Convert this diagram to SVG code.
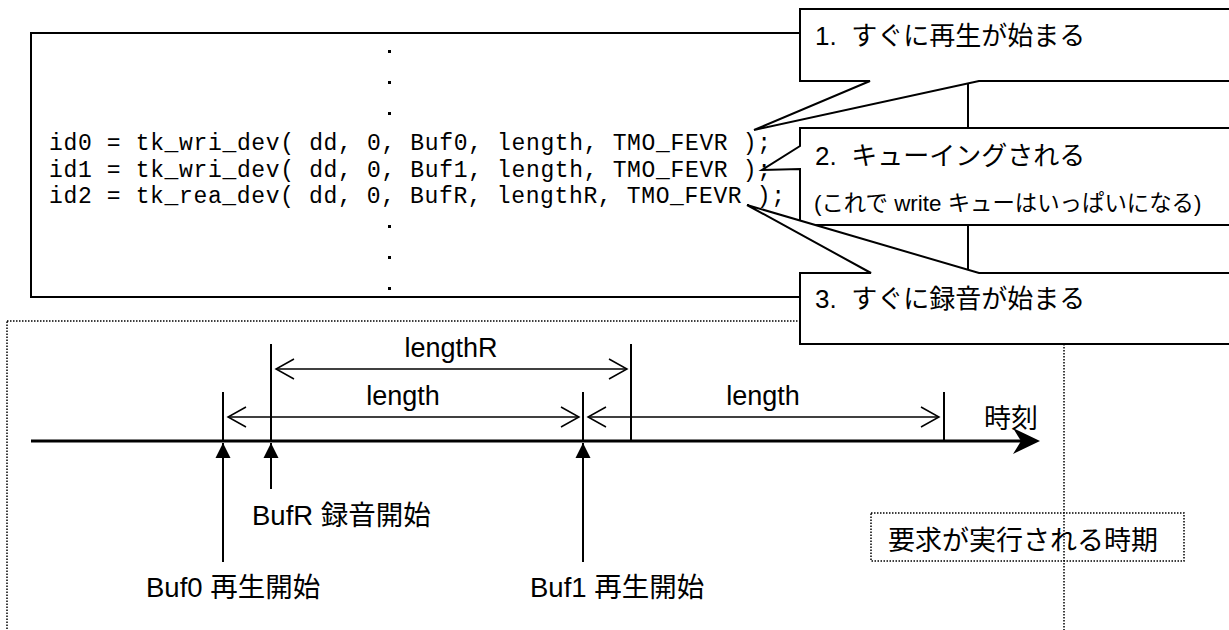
<svg xmlns="http://www.w3.org/2000/svg" width="1229" height="630" viewBox="0 0 1229 630">
<style>
.code{font-family:"Liberation Mono","Courier New",monospace;font-size:23px;fill:#000;white-space:pre}
.jp{font-family:"Liberation Sans","Noto Sans CJK JP",sans-serif;fill:#000;white-space:pre}
.box{fill:#fff;stroke:#000;stroke-width:2}
.thin{stroke:#000;stroke-width:1.5;fill:none}
.tick{stroke:#000;stroke-width:2;fill:none}
.dot{fill:none;stroke:#000;stroke-width:1.5;stroke-dasharray:1.5 1.5}
</style>
<defs>
<marker id="open" markerUnits="userSpaceOnUse" markerWidth="22" markerHeight="24" refX="19" refY="12" orient="auto-start-reverse">
<path d="M1,2 L19,12 L1,22" fill="none" stroke="#000" stroke-width="1.5"/>
</marker>
<marker id="tri" markerUnits="userSpaceOnUse" markerWidth="16" markerHeight="16" refX="15" refY="8" orient="auto">
<path d="M0,0.5 L15,8 L0,15.5 Z" fill="#000"/>
</marker>
</defs>
<rect width="1229" height="630" fill="#fff"/>

<g id="frame">
<rect class="dot" x="7" y="321" width="1057" height="330"/>
</g>

<g id="code-box">
<rect x="31" y="33" width="937" height="264" fill="#fff" stroke="#000" stroke-width="2"/>
<rect x="388" y="50" width="3" height="3"/>
<rect x="388" y="81" width="3" height="3"/>
<rect x="388" y="112" width="3" height="3"/>
<rect x="388" y="225" width="3" height="3"/>
<rect x="388" y="256" width="3" height="3"/>
<rect x="388" y="287" width="3" height="3"/>
<text class="code" x="49" y="150" textLength="722" lengthAdjust="spacing">id0 = tk_wri_dev( dd, 0, Buf0, length, TMO_FEVR );</text>
<text class="code" x="49" y="176.5" textLength="722" lengthAdjust="spacing">id1 = tk_wri_dev( dd, 0, Buf1, length, TMO_FEVR );</text>
<text class="code" x="49" y="203" textLength="736" lengthAdjust="spacing">id2 = tk_rea_dev( dd, 0, BufR, lengthR, TMO_FEVR );</text>
</g>

<g id="callout1">
<path class="box" d="M800,9 H1240 V81 H979 L754,130 L870,81 H800 Z"/>
<text class="jp" x="815" y="45" font-size="26">1.  すぐに再生が始まる</text>
</g>

<g id="callout2">
<path class="box" d="M800,128 H1240 V225 H800 V169 L762,170 L800,146 Z"/>
<text class="jp" x="815" y="165" font-size="26">2.  キューイングされる</text>
<text class="jp" x="814" y="211" font-size="22.4">(これで write キューはいっぱいになる)</text>
</g>

<g id="callout3">
<path class="box" d="M800,273 H871 L747,205 L979,273 H1240 V344 H800 Z"/>
<text class="jp" x="815" y="308" font-size="26">3.  すぐに録音が始まる</text>
</g>

<g id="connectors">
<line x1="31" y1="441" x2="1022" y2="441" stroke="#000" stroke-width="3"/>
<path d="M1040,441 L1013,428 L1021,441 L1013,454 Z" fill="#000"/>

<line class="tick" x1="223" y1="392" x2="223" y2="441"/>
<line class="tick" x1="271" y1="344" x2="271" y2="441"/>
<line class="tick" x1="583" y1="392" x2="583" y2="441"/>
<line class="tick" x1="631" y1="344" x2="631" y2="441"/>
<line class="tick" x1="944" y1="392" x2="944" y2="441"/>

<line class="thin" x1="276" y1="369" x2="627" y2="369" marker-start="url(#open)" marker-end="url(#open)"/>
<line class="thin" x1="228" y1="417" x2="579" y2="417" marker-start="url(#open)" marker-end="url(#open)"/>
<line class="thin" x1="588" y1="417" x2="939" y2="417" marker-start="url(#open)" marker-end="url(#open)"/>

<line class="tick" x1="223" y1="562" x2="223" y2="443" marker-end="url(#tri)"/>
<line class="tick" x1="271" y1="489" x2="271" y2="443" marker-end="url(#tri)"/>
<line class="tick" x1="583" y1="562" x2="583" y2="443" marker-end="url(#tri)"/>
</g>

<g id="labels">
<text class="jp" x="451" y="357" font-size="27" text-anchor="middle">lengthR</text>
<text class="jp" x="403" y="405" font-size="27" text-anchor="middle">length</text>
<text class="jp" x="763" y="405" font-size="27" text-anchor="middle">length</text>
<text class="jp" x="984" y="428" font-size="27">時刻</text>
<text class="jp" x="252" y="525" font-size="27.5">BufR 録音開始</text>
<text class="jp" x="146" y="597" font-size="27.5">Buf0 再生開始</text>
<text class="jp" x="530" y="597" font-size="27.5">Buf1 再生開始</text>
</g>

<g id="timing-note">
<rect x="871" y="513" width="313" height="48" fill="#fff" class="dot"/>
<text class="jp" x="888" y="550" font-size="27">要求が実行される時期</text>
</g>
</svg>
